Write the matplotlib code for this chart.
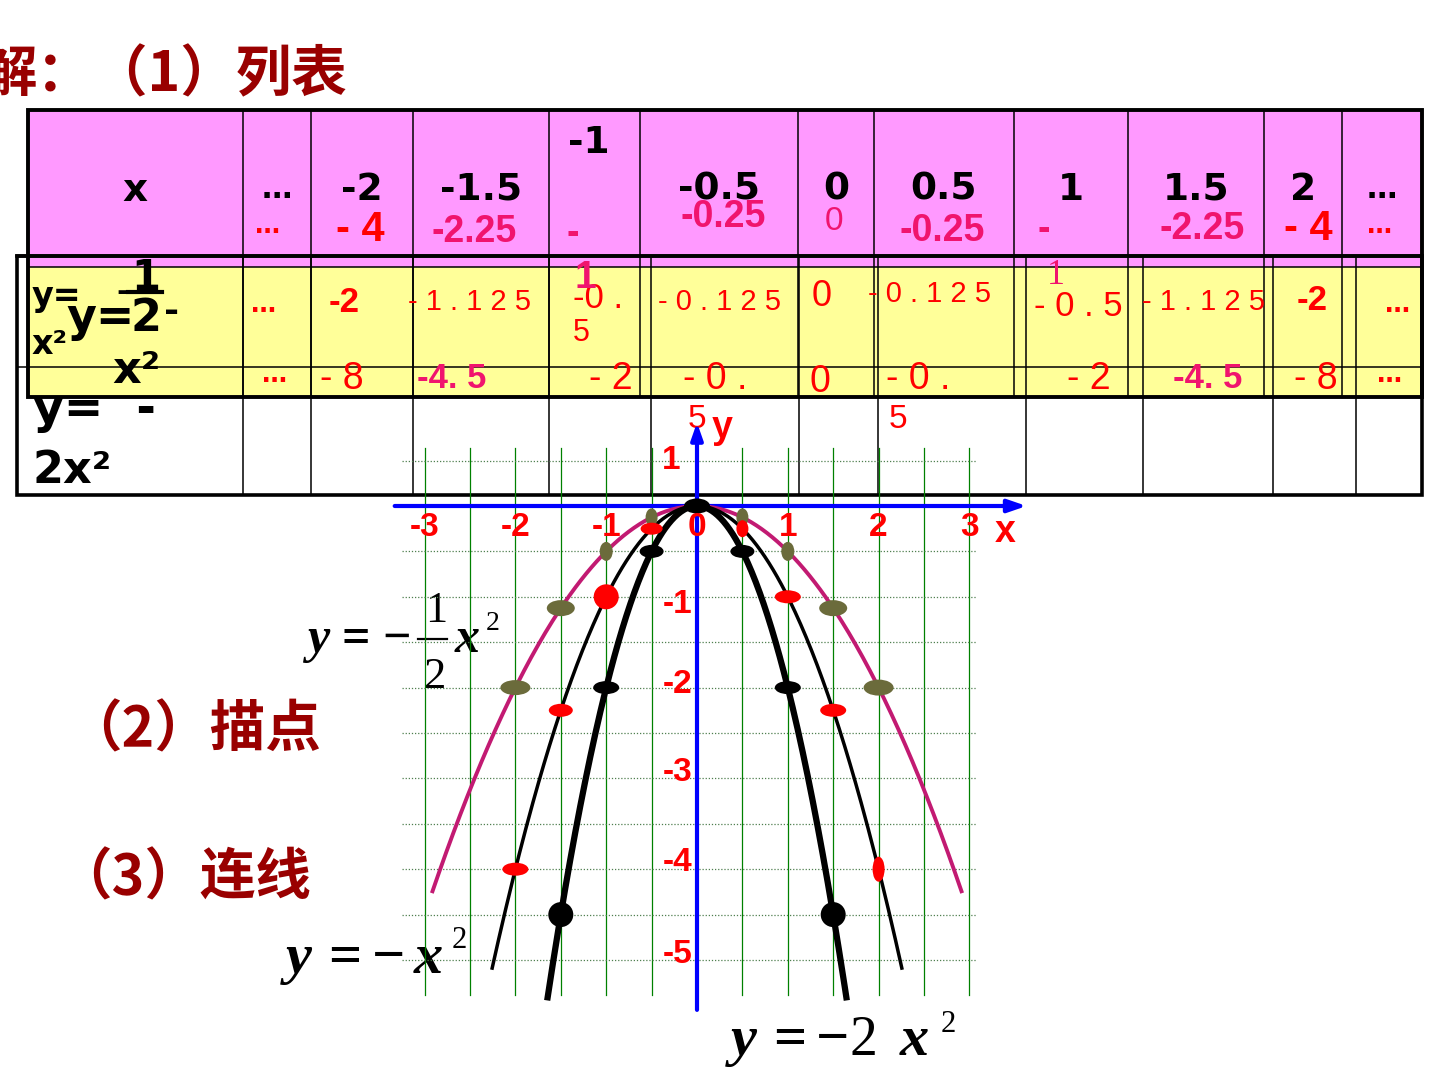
import numpy as np
import matplotlib
matplotlib.use("Agg")
import matplotlib.pyplot as plt
from matplotlib.patches import Rectangle, Ellipse

# ---- data ----
xs = [-2, -1.5, -1, -0.5, 0, 0.5, 1, 1.5, 2]
y_neg_x2 = [-4, -2.25, -1, -0.25, 0, -0.25, -1, -2.25, -4]
y_neg_half = [-2, -1.125, -0.5, -0.125, 0, -0.125, -0.5, -1.125, -2]
y_neg_2x2 = [-8, -4.5, -2, -0.5, 0, -0.5, -2, -4.5, -8]
coefs = [0.5, 1, 2]          # y = -a x^2
x_ends = [2.92, 2.26, 1.65]  # how far each drawn curve goes

header = ["…", "-2", "-1.5", "-1", "-0.5", "0", "0.5", "1", "1.5", "2", "…"]
row1_txt = ["…", "- 4", "-2.25", "-", "-0.25", "0", "-0.25", "-", "-2.25", "- 4", "…"]
row2_txt = ["…", "-2", "- 1 . 1 2 5", "-0 .", "- 0 . 1 2 5", "0", "- 0 . 1 2 5",
            "- 0 . 5", "- 1 . 1 2 5", "-2", "…"]
row3_txt = ["…", "- 8", "-4. 5", "- 2", "- 0 .", "0", "- 0 .", "- 2", "-4. 5", "- 8", "…"]

xtick_vals = [-3, -2, -1, 0, 1, 2, 3]
ytick_lbls = ["1", "-1", "-2", "-3", "-4", "-5"]

# ---- layout / style ----
W, H = 1440, 1080
PINK, YELLOW = "#FF99FF", "#FFFF99"
RED, PINKRED, DARKRED = "#FF0000", "#F0146E", "#990000"
MAGENTA, OLIVE = "#C21A72", "#6B6B3B"

pink_cols = [28, 243, 311, 413, 549, 640, 798, 874, 1014, 1128, 1264, 1342, 1422]
white_cols = [17, 243, 311, 413, 549, 651, 799, 878, 1026, 1143, 1273, 1356, 1422]

row1_pos = [(268, 226), (360, 230), (474, 232), (573, 234), (723, 217), (834, 222),
            (942, 231), (1044, 230), (1202, 229), (1308, 229), (1380, 226)]
row1_col = [RED, RED, PINKRED, PINKRED, PINKRED, PINKRED, PINKRED, PINKRED, PINKRED, RED, RED]
row2_pos = [(264, 305), (344, 302), (470, 302), (598, 299), (720, 302), (822, 297),
            (930, 294), (1078, 307), (1203, 302), (1312, 300), (1398, 305)]
row3_pos = [(275, 375), (342, 379), (452, 379), (611, 379), (715, 379), (820, 382),
            (918, 379), (1089, 379), (1208, 379), (1316, 379), (1390, 375)]
row3_col = [RED, RED, PINKRED, RED, RED, RED, RED, RED, PINKRED, RED, RED]

# ellipse sizes (px) for the dots, in xs order; None = not drawn
olive_sz = [(30, 15), (28, 16), (13, 19), (12, 18), None, (12, 18), (13, 19), (28, 16), (30, 16)]
red_sz = [(26, 13), (24, 13), (25, 25), (22, 12), None, (12, 17), (26, 13), (26, 13), (12, 25)]
black_sz = [None, (25, 25), (26, 13), (24, 13), (26, 15), (24, 13), (26, 13), (25, 25), None]

SANS = ["DejaVu Sans"]
ARIAL = ["Liberation Sans", "DejaVu Sans"]
SERIF = ["Liberation Serif", "DejaVu Serif"]
CJK = ["Noto Sans CJK SC", "DejaVu Sans"]

fig = plt.figure(figsize=(W / 100, H / 100), dpi=100)
ax0 = fig.add_axes([0, 0, 1, 1])
ax0.set_xlim(0, W)
ax0.set_ylim(H, 0)
ax0.axis("off")


def txt(x, y, s, size, color="black", family=SANS, weight="bold", ha="center",
        va="center", style="normal", z=6, ax=None):
    (ax or ax0).text(x, y, s, fontsize=size, color=color, family=family, weight=weight,
                     ha=ha, va=va, style=style, zorder=z)


# title and step labels
txt(-18, 75, "解：（1）列表", 40, DARKRED, CJK, ha="left")
txt(66, 730, "（2）描点", 40, DARKRED, CJK, ha="left")
txt(56, 878, "（3）连线", 40, DARKRED, CJK, ha="left")

# ---- white table (behind) ----
ax0.add_patch(Rectangle((17, 256), 1422 - 17, 495 - 256, fill=False, lw=2.6,
                        ec="black", zorder=4))
for c in white_cols[1:-1]:
    ax0.plot([c, c], [256, 495], color="black", lw=1.1, zorder=3)
ax0.plot([17, 1422], [367, 367], color="black", lw=1.1, zorder=3)
txt(33, 423, "y=  -", 34, ha="left", va="baseline", z=1)
txt(33, 483, "2x²", 32, ha="left", va="baseline", z=1)

# ---- pink / yellow table ----
ax0.add_patch(Rectangle((28, 110), 1422 - 28, 267 - 110, fc=PINK, ec="none", zorder=2))
ax0.add_patch(Rectangle((28, 267), 1422 - 28, 397 - 267, fc=YELLOW, ec="none", zorder=2))
ax0.add_patch(Rectangle((28, 110), 1422 - 28, 397 - 110, fill=False, lw=2.8,
                        ec="black", zorder=4))
ax0.plot([17, 1422], [256, 256], color="black", lw=2.6, zorder=4)
ax0.plot([28, 1422], [267, 267], color="black", lw=1.1, zorder=3)
for c in pink_cols[1:-1]:
    ax0.plot([c, c], [110, 397], color="black", lw=1.1, zorder=3)

# header row
txt(135, 190, "x", 28)
for i, s in enumerate(header):
    cx = (pink_cols[i + 1] + pink_cols[i + 2]) / 2
    if s == "…":
        txt(cx, 190, s, 22)
    else:
        txt(cx - (6 if s == "-1" else 0), 143 if s == "-1" else 190, s, 27)

# y = -x^2 values (in the pink row)
for s, (px, py), col in zip(row1_txt, row1_pos, row1_col):
    if s == "…":
        txt(px, py, s, 18, col)
    elif s == "- 4":
        txt(px, py, s, 30, col, ARIAL)
    elif s == "0":
        txt(px, py, s, 24, col, ARIAL, weight="normal")
    else:
        txt(px, py, s, 27, col, ARIAL)

# y = -1/2 x^2 values (yellow row)
for s, (px, py) in zip(row2_txt, row2_pos):
    if s == "…":
        txt(px, py, s, 18, RED)
    elif s == "-2":
        txt(px, py, s, 25, RED, ARIAL)
    elif s == "0":
        txt(px, py, s, 26, RED, ARIAL, weight="normal")
    elif "1 2 5" in s:
        txt(px, py, s, 21, RED, ARIAL, weight="normal")
    else:
        txt(px, py, s, 25, RED, ARIAL, weight="normal")
txt(585, 278, "1", 28, PINKRED, ARIAL)
txt(1056, 276, "1", 26, PINKRED, SERIF, weight="normal")
txt(581, 333, "5", 22, RED, ARIAL, weight="normal")

# y = -2x^2 values (bottom band)
for s, (px, py), col in zip(row3_txt, row3_pos, row3_col):
    if s == "…":
        txt(px, py, s, 18, col)
    elif s.startswith("-4"):
        txt(px, py, s, 25, col, ARIAL)
    else:
        txt(px, py, s, 27, col, ARIAL, weight="normal")
txt(697, 420, "5", 24, RED, ARIAL, weight="normal")
txt(898, 420, "5", 24, RED, ARIAL, weight="normal")

# overlapped row labels (y = -1/2 x^2)
txt(32, 306, "y=", 24, ha="left", va="baseline")
txt(32, 354, "x²", 24, ha="left", va="baseline")
txt(66, 331, "y=", 33, ha="left", va="baseline")
txt(123, 293, "-", 22)
txt(146, 290, "1", 30, va="baseline")
ax0.plot([128, 162], [292, 292], color="black", lw=3, zorder=6)
txt(146, 331, "2", 32, va="baseline")
txt(172, 312, "-", 26)
txt(112, 383, "x²", 32, ha="left", va="baseline")

# ---- graph ----
PX = 90.8
X0, Y0 = 697, 506
L, R, T, B = 380, 1045, 395, 1045
ax1 = fig.add_axes([L / W, 1 - B / H, (R - L) / W, (B - T) / H])
ax1.set_xlim((L - X0) / PX, (R - X0) / PX)
ax1.set_ylim((Y0 - B) / PX, (Y0 - T) / PX)
ax1.patch.set_alpha(0)
ax1.axis("off")
ax1.set_zorder(5)

for gx in np.arange(-3, 3.01, 0.5):
    ax1.plot([gx, gx], [0.64, -5.39], color="#008000", lw=0.9, zorder=1)
for gy in np.arange(0.5, -5.01, -0.5):
    ax1.plot([-3.25, 3.08], [gy, gy], color="#4F7F4F", lw=0.9, ls=(0, (1, 1.5)), zorder=1)

# axes
ax1.annotate("", xy=(3.66, 0), xytext=(-3.36, 0),
             arrowprops=dict(arrowstyle="-|>,head_length=1.1,head_width=0.38",
                             color="#0000FF", lw=3), zorder=2)
ax1.annotate("", xy=(0, 0.95), xytext=(0, -5.58),
             arrowprops=dict(arrowstyle="-|>,head_length=1.0,head_width=0.35",
                             color="#0000FF", lw=3), zorder=2)

# curves
for a, xe, col, lw in zip(coefs, x_ends, [MAGENTA, "black", "black"], [2.8, 2.5, 4.5]):
    xx = np.linspace(-xe, xe, 300)
    ax1.plot(xx, -a * xx ** 2, color=col, lw=lw, zorder=3, solid_capstyle="butt")

# plotted points
for ys, sizes, col in [(y_neg_half, olive_sz, OLIVE), (y_neg_x2, red_sz, RED),
                       (y_neg_2x2, black_sz, "black")]:
    for x, y, sz in zip(xs, ys, sizes):
        if sz is None:
            continue
        ax1.add_patch(Ellipse((x, y), sz[0] / PX, sz[1] / PX, fc=col, ec="none", zorder=4))

# tick labels
for v in xtick_vals:
    txt(v, -0.24, str(v), 24, RED, ARIAL, ax=ax1)
txt(3.39, -0.29, "x", 27, RED, ARIAL, ax=ax1)
txt(0.28, 0.86, "y", 27, RED, ARIAL, ax=ax1)
for s, gy in zip(ytick_lbls, [0.5, -1.08, -1.97, -2.94, -3.93, -4.94]):
    txt(-0.29 if s == "1" else -0.21, gy, s, 24, RED, ARIAL, ax=ax1)

# equation labels
def piece(x, base, s, size, italic=False, weight="bold"):
    txt(x, base, s, size, "black", SERIF, weight=weight, ha="left", va="baseline",
        style="italic" if italic else "normal", z=7)

piece(308, 652, "y", 36, True)
piece(342, 652, "=", 36)
piece(382, 652, "−", 36)
piece(425, 622, "1", 32, weight="normal")
piece(424, 688, "2", 32, weight="normal")
ax0.plot([418, 447], [639, 639], color="black", lw=1.6, zorder=7)
piece(455, 652, "x", 36, True)
piece(486, 630, "2", 20, weight="normal")

piece(286, 973, "y", 42, True)
piece(328, 973, "=", 42)
piece(372, 973, "−", 42)
piece(414, 973, "x", 42, True)
piece(452, 948, "2", 22, weight="normal")

piece(731, 1055, "y", 42, True)
piece(773, 1055, "=", 42)
piece(816, 1055, "−", 42)
piece(850, 1055, "2", 40, weight="normal")
piece(900, 1055, "x", 42, True)
piece(941, 1032, "2", 22, weight="normal")

fig.savefig("out.png", dpi=100)
